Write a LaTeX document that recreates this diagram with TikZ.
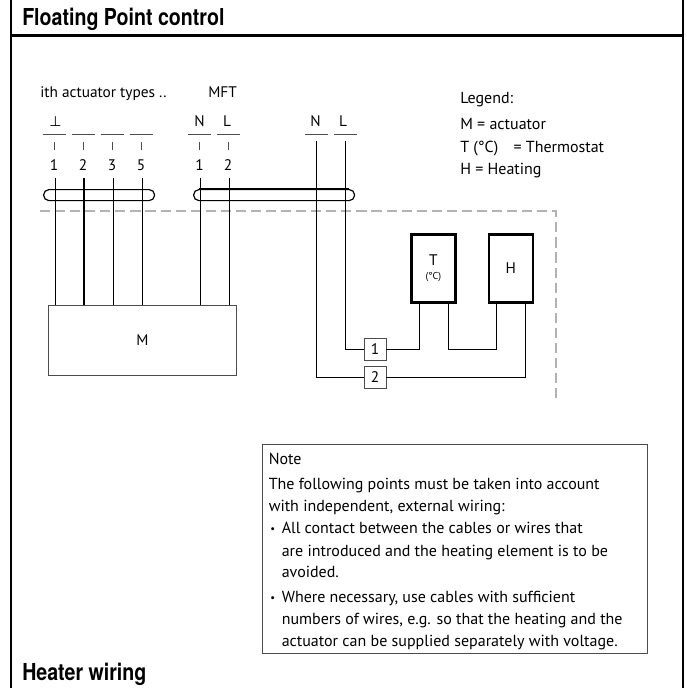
\documentclass[tikz,border=0pt]{standalone}
\usepackage{fontspec}
\setmainfont{PT Sans}
\newfontfamily\headfont[FakeStretch=0.84]{TeX Gyre Heros}
\newfontfamily\symfont{DejaVu Sans}
\tikzset{
  x=0.75pt,y=-0.75pt,
  frame/.style={line width=1.7pt,black},
  wire/.style={line width=0.75pt,black},
  thickwire/.style={line width=1.4pt,black},
  thin rule/.style={line width=0.6pt,black!70},
  loopline/.style={line width=0.9pt,black,rounded corners=4pt},
  dashline/.style={line width=1.3pt,black!30,dash pattern=on 7.6pt off 3.7pt},
  heavybox/.style={draw,line width=2pt,inner sep=0pt,anchor=north west},
  plainbox/.style={draw,line width=0.7pt,black!70,text=black,inner sep=0pt,anchor=north west},
  termbox/.style={draw,line width=0.7pt,black!70,text=black,inner sep=0pt,minimum width=16.5pt,minimum height=16.5pt},
  lbl/.style={inner sep=0pt,font=\fontsize{11.5}{13}\selectfont},
  lab/.style={lbl,anchor=base west},
  body/.style={lab,font=\fontsize{12}{14}\selectfont},
  dotmark/.style={lab,font=\fontsize{8}{10}\selectfont},
  head/.style={inner sep=0pt,anchor=base west,font=\headfont\bfseries\fontsize{17.5}{19}\selectfont},
}
\begin{document}
\begin{tikzpicture}
\useasboundingbox (0,0) rectangle (686,688);
% frame
\coordinate (fa) at (11,0); \coordinate (fb) at (11,688);
\coordinate (fc) at (683,0); \coordinate (fd) at (683,688);
\coordinate (fe) at (11,35.5); \coordinate (ff) at (683,35.5);
\draw[frame] (fa) -- (fb);
\draw[frame] (fc) -- (fd);
\draw[frame] (fe) -- (ff);
\node[head] (h1) at (22,26) {Floating Point control};
\node[head] (h2) at (22,680.7) {Heater wiring};
% top labels
\node[lab] (t1) at (40,98) {ith actuator types ..};
\node[lab] (t2) at (208,98) {MFT};
% legend
\node[body] (l1) at (460,104) {Legend:};
\node[body] (l2) at (460,130) {M = actuator};
\node[body] (l3) at (460,152) {T (°C) \hspace{5pt} = Thermostat};
\node[body] (l4) at (460,174) {H = Heating};
% dashed
\coordinate (da) at (40,211); \coordinate (db) at (556,211); \coordinate (dc) at (556,398);
\draw[dashline] (da) -- (db) -- (dc);
% cable loops
\node[draw,loopline,minimum width=83.25pt,minimum height=8.25pt,inner sep=0pt,anchor=north west] (c1) at (43,189) {};
\node[draw,loopline,minimum width=120.75pt,minimum height=8.25pt,inner sep=0pt,anchor=north west] (c2) at (193,189) {};
\coordinate (c2a) at (199,189); \coordinate (c2b) at (349,189);
\draw[thickwire] (c2a) -- (c2b);
% M box
\node[plainbox,minimum width=141pt,minimum height=52.5pt,font=\fontsize{11.5}{13}\selectfont] (M) at (48,305) {M};
% T, H
\node[heavybox,minimum width=33pt,minimum height=51pt] (T) at (410,233) {};
\node[inner sep=0pt,align=center,font=\fontsize{11.5}{11}\selectfont] (Tl) at (T.center) {T\\[-1pt]{\fontsize{7.5}{8}\selectfont(°C)}};
\node[heavybox,minimum width=33pt,minimum height=51pt,font=\fontsize{11.5}{13}\selectfont] (H) at (487.5,233) {H};
\node[termbox,font=\fontsize{11.5}{13}\selectfont] (b1) at (375,349) {1};
\node[termbox,font=\fontsize{11.5}{13}\selectfont] (b2) at (375,377) {2};
% pin wires
\foreach \n/\x/\s/\tx in {a/55/wire/1,b/84/thickwire/2,c/113/wire/3,d/142/wire/5,e/200.5/wire/1,f/229/wire/2}{
  \node[lbl,anchor=base] (n\n) at (\x-1,171) {\tx};
  \coordinate (w\n) at (\x,178);
  \draw[\s] (w\n) -- (w\n |- M.north);
  \coordinate (u\n) at (\x-1,142);
  \coordinate (v\n) at (\x-1,150);
  \draw[thin rule] (u\n) -- (v\n);
  \coordinate (ra) at (\x-12.5,134.5);
  \coordinate (rb) at (\x+10.5,134.5);
  \draw[thin rule] (ra) -- (rb);
}
\node[lbl,anchor=base,font=\symfont\fontsize{10.5}{13}\selectfont] (p1) at (55.5,127) {⊥};
\node[lbl,anchor=base] (p2) at (199.5,127) {N};
\node[lbl,anchor=base] (p3) at (227,127) {L};
\node[lbl,anchor=base] (p4) at (315.5,127) {N};
\node[lbl,anchor=base] (p5) at (343,127) {L};
\coordinate (ra) at (305,134.5); \coordinate (rb) at (328,134.5);
\coordinate (rc) at (334,134.5); \coordinate (rd) at (357,134.5);
\draw[thin rule] (ra) -- (rb);
\draw[thin rule] (rc) -- (rd);
% wiring
\coordinate (nt) at (316.5,141); \coordinate (lt) at (345.5,141);
\coordinate (tw1) at (419.5,0); \coordinate (tw2) at (448,0);
\coordinate (hw1) at (496,0); \coordinate (hw2) at (525,0);
\draw[wire] (lt) |- (b1.west);
\draw[wire] (nt) |- (b2.west);
\draw[wire] (b1.east) -| (tw1 |- T.south);
\draw[wire] (tw2 |- T.south) |- (hw1 |- b1.east) -- (hw1 |- H.south);
\draw[wire] (b2.east) -| (hw2 |- H.south);
% note
\node[plainbox,minimum width=289pt,minimum height=157pt] (note) at (262,443.5) {};
\node[body] (n1) at (268.5,464) {Note};
\node[body] (n2) at (268.5,489) {The following points must be taken into account};
\node[body] (n3) at (268.5,511) {with independent, external wiring:};
\node[dotmark] (n4) at (270,532) {•};
\node[body] (n5) at (281.5,533) {All contact between the cables or wires that};
\node[body] (n6) at (281.5,556) {are introduced and the heating element is to be};
\node[body] (n7) at (281.5,577) {avoided.};
\node[dotmark] (n8) at (270,601) {•};
\node[body] (n9) at (281.5,602) {Where necessary, use cables with sufficient};
\node[body] (n10) at (281.5,624) {numbers of wires, e.g. so that the heating and the};
\node[body] (n11) at (281.5,646) {actuator can be supplied separately with voltage.};
\end{tikzpicture}
\end{document}
